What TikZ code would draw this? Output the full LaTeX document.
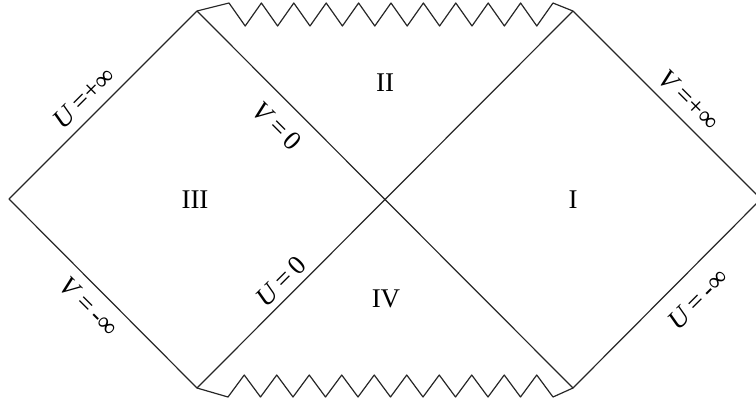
\documentclass[tikz,border=0pt]{standalone}
\usepackage{fontspec}
\setmainfont{Liberation Serif}
\begin{document}
\begin{tikzpicture}[x=0.5pt,y=-0.5pt,
  edge/.style={line width=0.6pt,draw=black!85,line join=round},
  region/.style={font=\fontsize{13.5}{16}\selectfont,inner sep=0pt},
  lab/.style={font=\fontsize{13.5}{16}\selectfont,inner sep=0pt}]
\useasboundingbox (0,0) rectangle (756,403);
\coordinate (L) at (9,199);
\coordinate (TL) at (197,11);
\coordinate (C) at (385,199);
\coordinate (BL) at (197,388);
\coordinate (TR) at (573,11);
\coordinate (BR) at (573,388);
\coordinate (R) at (761,199);
% diamonds
\draw[edge] (L) -- (TL) -- (BR) -- (R) -- (TR) -- (BL) -- cycle;
% top singularity
\draw[edge] (TL) -- (229,3)
  \foreach \k in {0,...,9} { -- ({229+32.4*\k+16.2},26) -- ({229+32.4*(\k+1)},3) }
  -- (TR);
% bottom singularity
\draw[edge] (BL) -- (228,397)
  \foreach \k in {0,...,9} { -- ({228+32.5*\k+16.25},375) -- ({228+32.5*(\k+1)},397) }
  -- (BR);
% region labels
\node[region] (rII) at (385,83) {II};
\node[region] (rIII) at (195,200) {III};
\node[region] (rI) at (573,200) {I};
\node[region] (rIV) at (386,299) {IV};
% edge labels
\node[lab,rotate=45] (uplus) at (84,98) {\textit{U}\,=+∞};
\node[lab,rotate=-45] (vzero) at (277,126) {\textit{V}\,=\,0};
\node[lab,rotate=45] (uzero) at (281,281) {\textit{U}\,=\,0};
\node[lab,rotate=-45] (vminus) at (89,307) {\textit{V}\,=\,-∞};
\node[lab,rotate=-45] (vplus) at (689,100) {\textit{V}\,=+∞};
\node[lab,rotate=45] (uminus) at (698,299) {\textit{U}\,=\,-∞};
\end{tikzpicture}
\end{document}
